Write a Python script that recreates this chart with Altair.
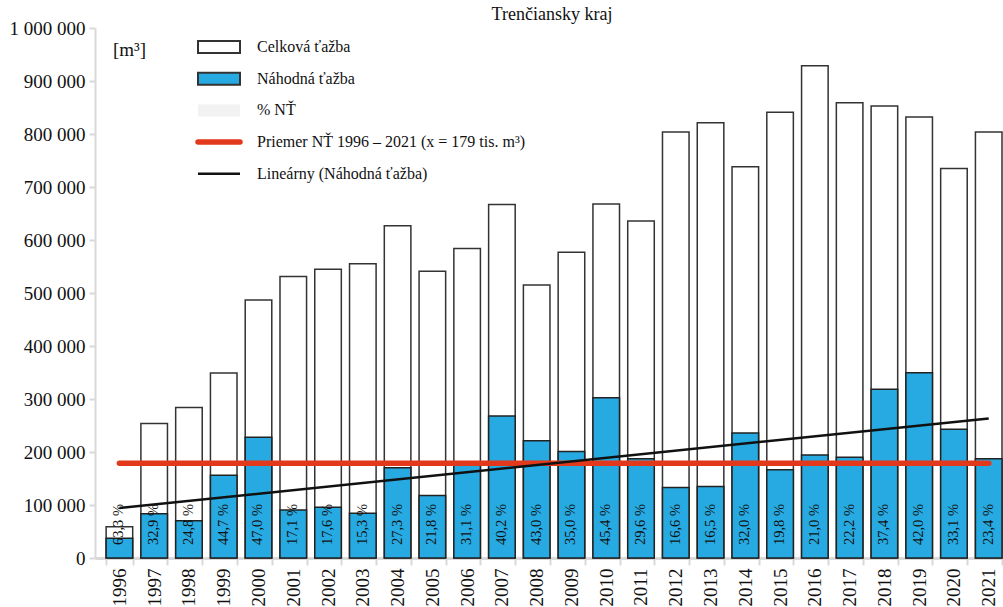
import altair as alt
import pandas as pd

# ---------------- data ----------------
years = ['1996', '1997', '1998', '1999', '2000', '2001', '2002', '2003', '2004',
         '2005', '2006', '2007', '2008', '2009', '2010', '2011', '2012', '2013',
         '2014', '2015', '2016', '2017', '2018', '2019', '2020', '2021']
total = [59000, 254000, 284000, 349000, 487000, 531000, 545000, 555000, 627000,
         541000, 584000, 667000, 515000, 577000, 668000, 636000, 804000, 821000,
         738000, 841000, 929000, 859000, 853000, 832000, 735000, 804000]
random_cut = [37200, 83500, 70400, 156000, 228000, 90600, 95800, 84500, 170500,
              117800, 181600, 268000, 221000, 201000, 302500, 187500, 133000, 135000,
              236000, 166500, 194500, 190000, 318500, 349500, 243000, 187500]
pct = [63.3, 32.9, 24.8, 44.7, 47.0, 17.1, 17.6, 15.3, 27.3, 21.8, 31.1, 40.2, 43.0,
       35.0, 45.4, 29.6, 16.6, 16.5, 32.0, 19.8, 21.0, 22.2, 37.4, 42.0, 33.1, 23.4]
AVG = 179000
y_ticks = [0, 100000, 200000, 300000, 400000, 500000, 600000, 700000, 800000,
           900000, 1000000]
legend_labels = ["Celková ťažba", "Náhodná ťažba", "% NŤ",
                 "Priemer NŤ 1996 – 2021 (x = 179 tis. m³)",
                 "Lineárny (Náhodná ťažba)"]
title_text = "Trenčiansky kraj"
unit_text = "[m³]"

df = pd.DataFrame({'year': years, 'total': total, 'random': random_cut, 'pct': pct})
leg_df = pd.DataFrame({'label': legend_labels, 'i': list(range(len(legend_labels)))})

# ---------------- layout ----------------
W, H = 907, 530
N = len(years)
PI, PO, ALIGN = 0.236, 0.16, 1.0
step = W / (N - PI + 2 * PO)
left_off = (W - step * (N - PI)) * ALIGN
c0 = left_off + step * (1 - PI) / 2
d0 = int(years[0]) - c0 / step
d1 = d0 + W / step

FONT = 'Liberation Serif'
GRAY = '#d9d9d9'
BLUE = '#27aae1'
RED = '#e2381b'
INK = '#111111'

xscale = alt.Scale(paddingInner=PI, paddingOuter=PO, align=ALIGN)
xaxis = alt.Axis(title=None, labelAngle=270, labelFontSize=19, labelFont=FONT,
                 labelColor=INK, domainColor=GRAY, domainWidth=3, tickColor=GRAY,
                 tickWidth=2, tickSize=7, tickBand='extent', labelPadding=3)
xenc = alt.X('year:O', scale=xscale, sort=years, axis=xaxis)
yscale = alt.Scale(domain=[0, 1000000], nice=False)
yaxis = alt.Axis(title=None, values=y_ticks,
                 labelExpr="replace(format(datum.value, ','), regexp(',', 'g'), ' ')",
                 labelFont=FONT, labelFontSize=19, labelColor=INK, domainColor=GRAY,
                 domainWidth=2, tickColor=GRAY, tickWidth=2, tickSize=6,
                 labelPadding=4, grid=False)

base = alt.Chart(df)

bars_total = base.mark_bar(fill='white', stroke='#333333', strokeWidth=1.5).encode(
    x=xenc, y=alt.Y('total:Q', scale=yscale, axis=yaxis))
bars_random = base.mark_bar(fill=BLUE, stroke='#222222', strokeWidth=1.5).encode(
    x=xenc, y=alt.Y('random:Q', scale=yscale, axis=yaxis))
pct_text = base.transform_calculate(
    lbl="replace(format(datum.pct, '.1f'), '.', ',') + ' %'"
).mark_text(angle=270, align='left', baseline='middle', dx=13, font=FONT,
            fontSize=14.5, color=INK).encode(
    x=xenc, y=alt.datum(0), text='lbl:N')
avg_line = base.mark_line(color=RED, strokeWidth=5.5, strokeCap='round').encode(
    x=xenc, y=alt.datum(AVG))

# legend
leg_layers = []
row_y = [19 + k * 31.7 for k in range(len(legend_labels))]
SX0, SX1 = 103, 145
styles = [
    dict(kind='rect', fill='white', stroke='#333333', strokeWidth=2),
    dict(kind='rect', fill=BLUE, stroke='#333333', strokeWidth=2),
    dict(kind='rect', fill='#f2f2f2', strokeWidth=0),
    dict(kind='rule', color=RED, strokeWidth=5.5, strokeCap='round'),
    dict(kind='rule', color=INK, strokeWidth=2.5),
]
for k, st in enumerate(styles):
    src = alt.Chart(leg_df).transform_filter(alt.datum.i == k)
    ry = row_y[k]
    kind = st.pop('kind')
    if kind == 'rect':
        lay = src.mark_rect(**st).encode(
            x=alt.value(SX0), x2=alt.value(SX1),
            y=alt.value(ry - 6), y2=alt.value(ry + 6))
    else:
        lay = src.mark_rule(**st).encode(
            x=alt.value(SX0), x2=alt.value(SX1), y=alt.value(ry))
    leg_layers.append(lay)
    leg_layers.append(src.mark_text(align='left', baseline='middle', font=FONT,
                                    fontSize=16, color=INK).encode(
        x=alt.value(162), y=alt.value(ry), text='label:N'))

unit = alt.Chart(pd.DataFrame({'t': [unit_text]})).mark_text(
    align='left', baseline='middle', font=FONT, fontSize=19, color=INK).encode(
    x=alt.value(18), y=alt.value(22), text='t:N')

title = alt.Chart(pd.DataFrame({'t': [title_text]})).mark_text(
    align='center', baseline='middle', font=FONT, fontSize=18, color=INK).encode(
    x=alt.value(457), y=alt.value(-13), text='t:N')

main = alt.layer(bars_total, bars_random, pct_text, avg_line, unit, title, *leg_layers)

trend = base.transform_calculate(yr='toNumber(datum.year)').transform_regression(
    'yr', 'random', extent=[int(years[0]), int(years[-1])]
).mark_line(color=INK, strokeWidth=2.5).encode(
    x=alt.X('yr:Q', scale=alt.Scale(domain=[d0, d1], nice=False, zero=False), axis=None),
    y=alt.Y('random:Q', scale=yscale, axis=yaxis))

chart = alt.layer(main, trend).resolve_scale(x='independent').properties(
    width=W, height=H,
    padding={'left': 95, 'top': 28, 'right': 1, 'bottom': 49},
    autosize=alt.AutoSizeParams(type='none'),
).configure(font=FONT).configure_view(stroke=None).configure_axis(
    labelFont=FONT).configure_text(font=FONT)

chart.save("out.html", embed_options={"renderer": "svg", "actions": False})
